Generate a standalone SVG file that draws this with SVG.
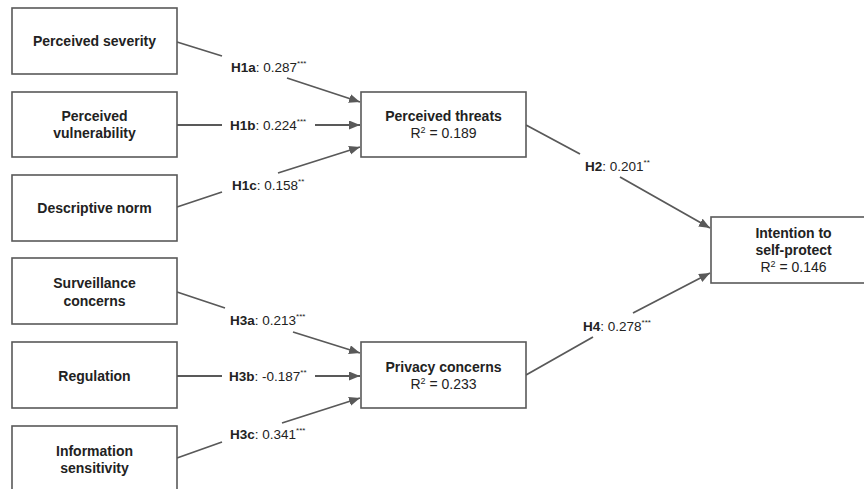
<svg xmlns="http://www.w3.org/2000/svg" width="864" height="489" viewBox="0 0 864 489">
<style>
.box{fill:#fff;stroke:#595959;stroke-width:1.6}
.t{font-family:"Liberation Sans",Arial,sans-serif;font-size:14px;font-weight:bold;fill:#222;text-anchor:middle}
.r{font-family:"Liberation Sans",Arial,sans-serif;font-size:14px;fill:#222;text-anchor:middle}
.l{font-family:"Liberation Sans",Arial,sans-serif;font-size:13.5px;fill:#222}
.b{font-weight:bold}
.s{font-size:8px}
.e{fill:none;stroke:#595959;stroke-width:1.8}
</style>
<defs>
<marker id="ah" markerUnits="userSpaceOnUse" markerWidth="12" markerHeight="10" refX="11" refY="4.5" orient="auto">
<path d="M0,0 L11,4.5 L0,9 z" fill="#595959"/>
</marker>
</defs>
<rect width="864" height="489" fill="#fff"/>
<g id="connectors">
<path class="e" d="M177,42 L222,56 M287,78 L360,102" marker-end="url(#ah)"/>
<path class="e" d="M177,125 L222,125 M315,125 L360,125" marker-end="url(#ah)"/>
<path class="e" d="M177,207 L222,192 M278,173 L360,147" marker-end="url(#ah)"/>
<path class="e" d="M177,292 L225,308 M293,332 L360,353" marker-end="url(#ah)"/>
<path class="e" d="M177,376 L222,376 M315,376 L360,376" marker-end="url(#ah)"/>
<path class="e" d="M177,458 L222,442 M282,423 L360,398" marker-end="url(#ah)"/>
<path class="e" d="M526,125 L580,154 M620,177 L710,228" marker-end="url(#ah)"/>
<path class="e" d="M526,375 L593,337 M633,313 L710,273" marker-end="url(#ah)"/>
<text class="l" x="231" y="72"><tspan class="b">H1a</tspan>: 0.287<tspan class="s" dy="-6">***</tspan></text>
<text class="l" x="230" y="130"><tspan class="b">H1b</tspan>: 0.224<tspan class="s" dy="-6">***</tspan></text>
<text class="l" x="232" y="190"><tspan class="b">H1c</tspan>: 0.158<tspan class="s" dy="-6">**</tspan></text>
<text class="l" x="230" y="325"><tspan class="b">H3a</tspan>: 0.213<tspan class="s" dy="-6">***</tspan></text>
<text class="l" x="229" y="381"><tspan class="b">H3b</tspan>: -0.187<tspan class="s" dy="-6">**</tspan></text>
<text class="l" x="230" y="439"><tspan class="b">H3c</tspan>: 0.341<tspan class="s" dy="-6">***</tspan></text>
<text class="l" x="585" y="171"><tspan class="b">H2</tspan>: 0.201<tspan class="s" dy="-6">**</tspan></text>
<text class="l" x="583" y="331"><tspan class="b">H4</tspan>: 0.278<tspan class="s" dy="-6">***</tspan></text>
</g>
<g id="n-severity"><rect class="box" x="12" y="8" width="165" height="66"/><text class="t" x="94.5" y="46">Perceived severity</text></g>
<g id="n-vulnerability"><rect class="box" x="12" y="92" width="165" height="65"/><text class="t" x="94.5" y="121">Perceived</text><text class="t" x="94.5" y="138">vulnerability</text></g>
<g id="n-norm"><rect class="box" x="12" y="175" width="165" height="66"/><text class="t" x="94.5" y="213">Descriptive norm</text></g>
<g id="n-surveillance"><rect class="box" x="12" y="258" width="165" height="66"/><text class="t" x="94.5" y="288">Surveillance</text><text class="t" x="94.5" y="306">concerns</text></g>
<g id="n-regulation"><rect class="box" x="12" y="342" width="165" height="66"/><text class="t" x="94.5" y="381">Regulation</text></g>
<g id="n-sensitivity"><rect class="box" x="12" y="426" width="165" height="66"/><text class="t" x="94.5" y="456">Information</text><text class="t" x="94.5" y="473">sensitivity</text></g>
<g id="n-threats"><rect class="box" x="361" y="92" width="165" height="65"/><text class="t" x="443.5" y="121">Perceived threats</text><text class="r" x="443.5" y="138">R<tspan font-size="9" dy="-5">2</tspan><tspan dy="5"> = 0.189</tspan></text></g>
<g id="n-privacy"><rect class="box" x="361" y="342" width="165" height="66"/><text class="t" x="443.5" y="372">Privacy concerns</text><text class="r" x="443.5" y="389">R<tspan font-size="9" dy="-5">2</tspan><tspan dy="5"> = 0.233</tspan></text></g>
<g id="n-intention"><rect class="box" x="711" y="217" width="165" height="66"/><text class="t" x="793.5" y="238">Intention to</text><text class="t" x="793.5" y="255">self-protect</text><text class="r" x="793.5" y="272">R<tspan font-size="9" dy="-5">2</tspan><tspan dy="5"> = 0.146</tspan></text></g>
</svg>
